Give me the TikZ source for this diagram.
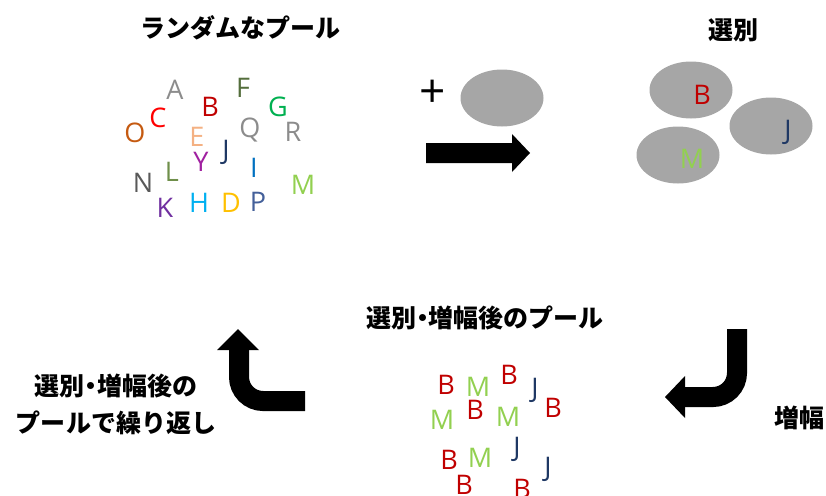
\documentclass[tikz,border=0pt]{standalone}
\usepackage{fontspec}
\usetikzlibrary{shapes.geometric}
\setmainfont{Open Sans}
\newfontfamily\jp{Noto Sans CJK JP}
\definecolor{cgray}{HTML}{8C8C8C}
\definecolor{cdgray}{HTML}{595959}
\definecolor{cdgreen}{HTML}{546E3C}
\definecolor{cdred}{HTML}{C00000}
\definecolor{cgreen}{HTML}{00B050}
\definecolor{cred}{HTML}{FF0000}
\definecolor{corange}{HTML}{C55A11}
\definecolor{cpeach}{HTML}{F4B183}
\definecolor{cnavy}{HTML}{1F3864}
\definecolor{cpurple}{HTML}{A020A0}
\definecolor{cblue}{HTML}{0070C0}
\definecolor{colive}{HTML}{6F8F4A}
\definecolor{clgreen}{HTML}{92D050}
\definecolor{cviolet}{HTML}{7030A0}
\definecolor{csky}{HTML}{00B0F0}
\definecolor{cgold}{HTML}{FFC000}
\definecolor{cslate}{HTML}{44609A}
\definecolor{cbead}{HTML}{A6A6A6}
\begin{document}
\begin{tikzpicture}[x=1pt,y=-1pt,
  lt/.style={inner sep=0pt,font=\fontsize{27}{27}\selectfont},
  ttl/.style={inner sep=0pt,font=\jp\bfseries\fontsize{25}{37}\selectfont,align=center},
  bead/.style={ellipse,fill=cbead,inner sep=0pt,minimum width=83pt,minimum height=57pt},
  fatline/.style={line width=20pt,black,rounded corners=24pt},
  arrowhead/.style={fill=black}]
\useasboundingbox (0,0) rectangle (826,495);
\clip (0,0) rectangle (826,495);
% titles
\node[ttl] (t1) at (240,28) {ランダムなプール};
\node[ttl] (t2) at (733,30) {選別};
\node[ttl] (t3) at (485,318) {選別\kern-0.25em・\kern-0.25em増幅後のプール};
\node[ttl] (t4) at (116,404) {選別\kern-0.25em・\kern-0.25em増幅後の\\プールで繰り返し};
\node[ttl] (t5) at (799,418) {増幅};
% random pool
\node[lt,text=cgray] (A) at (175,90) {A};
\node[lt,text=cdgreen] (F) at (243,88) {F};
\node[lt,text=cdred] (B) at (210,107) {B};
\node[lt,text=cgreen] (G) at (278,107) {G};
\node[lt,text=cred] (C) at (158,118) {C};
\node[lt,text=cgray] (R) at (293,132) {R};
\node[lt,text=cgray] (Q) at (250,130) {Q};
\node[lt,text=corange] (O) at (135,133) {O};
\node[lt,text=cpeach] (E) at (197,137) {E};
\node[lt,text=cnavy] (J) at (226,152) {J};
\node[lt,text=cpurple] (Y) at (201,162) {Y};
\node[lt,text=cblue] (I) at (254,168) {I};
\node[lt,text=colive] (L) at (172,172) {L};
\node[lt,text=cdgray] (N) at (143,183) {N};
\node[lt,text=clgreen] (M) at (303,185) {M};
\node[lt,text=cviolet] (K) at (165,208) {K};
\node[lt,text=csky] (H) at (199,203) {H};
\node[lt,text=cgold] (D) at (231,203) {D};
\node[lt,text=cslate] (P) at (258,202) {P};
% plus, bead, arrow
\node[inner sep=0pt,font=\fontsize{46}{46}\selectfont] (plus) at (433,94) {+};
\node[bead] (b0) at (502,98) {};
\fill[arrowhead] (426,143) -- (512,143) -- (512,134) -- (530,153) -- (512,172) -- (512,163) -- (426,163) -- cycle;
% selected beads
\node[bead] (b1) at (691,90) {};
\node[bead] (b2) at (771,126) {};
\node[bead] (b3) at (678,155) {};
\node[lt,text=cdred] (sB) at (702,95) {B};
\node[lt,text=cnavy] (sJ) at (788,132) {J};
\node[lt,text=clgreen] (sM) at (692,159) {M};
% amplified pool
\node[lt,text=cdred] (p1) at (446,385) {B};
\node[lt,text=clgreen] (p2) at (478,387) {M};
\node[lt,text=cdred] (p3) at (509,375) {B};
\node[lt,text=cnavy] (p4) at (535,390) {J};
\node[lt,text=cdred] (p5) at (553,408) {B};
\node[lt,text=clgreen] (p6) at (442,420) {M};
\node[lt,text=cdred] (p7) at (475,410) {B};
\node[lt,text=clgreen] (p8) at (508,417) {M};
\node[lt,text=cnavy] (p9) at (517,449) {J};
\node[lt,text=cdred] (p10) at (449,460) {B};
\node[lt,text=clgreen] (p11) at (480,458) {M};
\node[lt,text=cnavy] (p12) at (548,469) {J};
\node[lt,text=cdred] (p13) at (464,485) {B};
\node[lt,text=cdred] (p14) at (522,489) {B};
% hook arrows
\draw[fatline] (239,349) -- (239,401) -- (305,401);
\fill[arrowhead] (217,350) -- (238,329) -- (259,350) -- cycle;
\draw[fatline] (737,329) -- (737,397) -- (684,397);
\fill[arrowhead] (685,376) -- (665,397) -- (685,418) -- cycle;
\end{tikzpicture}
\end{document}
